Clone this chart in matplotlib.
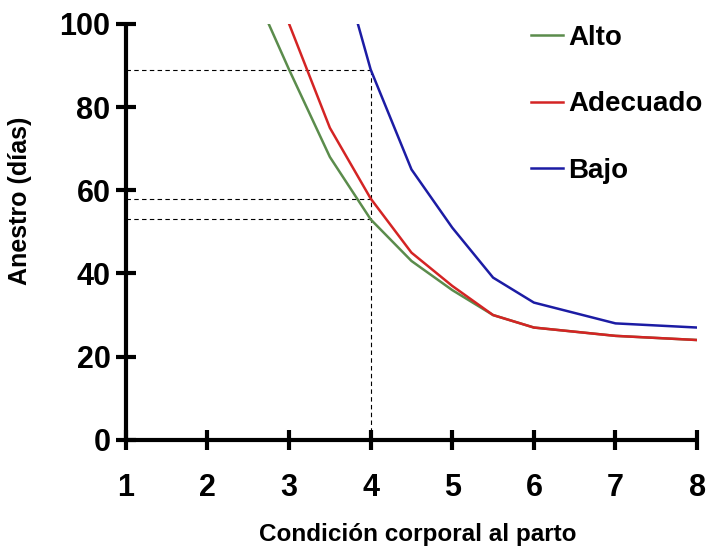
import matplotlib.pyplot as plt

# data
x_alto = [2.5, 3, 3.5, 4, 4.5, 5, 5.5, 6, 7, 8]
y_alto = [111, 89, 68, 53, 43, 36, 30, 27, 25, 24]
x_adec = [3, 3.5, 4, 4.5, 5, 5.5, 6, 7, 8]
y_adec = [100, 75, 58, 45, 37, 30, 27, 25, 24]
x_bajo = [3.5, 4, 4.5, 5, 5.5, 6, 7, 8]
y_bajo = [124, 89, 65, 51, 39, 33, 28, 27]
ref_y = [89, 58, 53]
ref_x = 4

plt.rcParams['font.family'] = ['Liberation Sans', 'DejaVu Sans']
plt.rcParams['font.weight'] = 'bold'

fig = plt.figure(figsize=(7.07, 5.54), dpi=100)
ax = fig.add_axes([0.178, 0.206, 0.808, 0.751])

# dashed guide lines
for yv in ref_y:
    ax.plot([1, ref_x], [yv, yv], color='black', lw=0.8, ls=(0, (4, 3)))
ax.plot([ref_x, ref_x], [0, max(ref_y)], color='black', lw=0.8, ls=(0, (4, 3)))

ax.plot(x_alto, y_alto, color='#5b8c4c', lw=1.8, label='Alto')
ax.plot(x_adec, y_adec, color='#d42424', lw=1.8, label='Adecuado')
ax.plot(x_bajo, y_bajo, color='#1c1ca4', lw=1.8, label='Bajo')

ax.set_xlim(1, 8)
ax.set_ylim(0, 100)
ax.set_xticks(range(1, 9))
ax.set_yticks(range(0, 101, 20))
for s in ['top', 'right']:
    ax.spines[s].set_visible(False)
for s in ['left', 'bottom']:
    ax.spines[s].set_linewidth(3)
    ax.spines[s].set_capstyle('butt')
ax.tick_params(direction='inout', length=14, width=3, labelsize=22)
ax.tick_params(axis='y', pad=4)
ax.tick_params(axis='x', pad=17)

fig.text(20 / 707, 1 - 201 / 554, 'Anestro (días)', rotation=90, fontsize=18,
         fontweight='bold', ha='center', va='center')
fig.text(418 / 707, 1 - 535 / 554, 'Condición corporal al parto', fontsize=17.5,
         fontweight='bold', ha='center', va='center')

leg = ax.legend(loc='upper left', bbox_to_anchor=(531 / 707, 1 - 25 / 554),
                bbox_transform=fig.transFigure, frameon=False, borderpad=0,
                borderaxespad=0, fontsize=20, handlelength=1.15,
                handletextpad=0.18, labelspacing=1.45)

fig.savefig('out.png', dpi=100)
